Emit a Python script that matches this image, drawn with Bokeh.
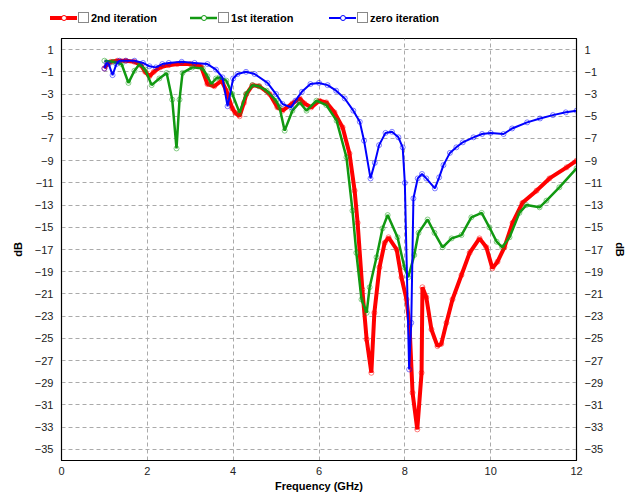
from bokeh.plotting import figure
from bokeh.models import LinearAxis, FixedTicker, Range1d, Div
from bokeh.layouts import column
from bokeh.embed import file_html
from bokeh.resources import INLINE

# ---- data ----
x_ticks = [0, 2, 4, 6, 8, 10, 12]
y_ticks = [1, -1, -3, -5, -7, -9, -11, -13, -15, -17, -19, -21, -23, -25, -27, -29, -31, -33, -35]

series_names = ["2nd iteration", "1st iteration", "zero iteration"]

second_x = [1.0, 1.08, 1.15, 1.3, 1.5, 1.7, 1.85, 1.95, 2.05, 2.15, 2.3, 2.5, 2.7, 3.0, 3.25, 3.4,
            3.56, 3.73, 3.84, 3.98, 4.05, 4.15, 4.25, 4.31, 4.45, 4.61, 4.85, 5.03, 5.15, 5.38, 5.55,
            5.66, 5.82, 6.01, 6.17, 6.36, 6.55, 6.71, 6.83, 6.90, 7.01, 7.11, 7.22, 7.29, 7.41, 7.53,
            7.62, 7.81, 7.92, 8.04, 8.11, 8.18, 8.29, 8.39, 8.41, 8.50, 8.62, 8.76, 8.85, 8.97, 9.11,
            9.32, 9.51, 9.74, 9.90, 10.04, 10.16, 10.32, 10.51, 10.74, 11.07, 11.37, 11.77, 12.0]
second_db = [-0.7, -0.25, -0.1, 0.0, 0.0, -0.1, -0.4, -1.0, -1.4, -1.0, -0.6, -0.4, -0.3, -0.3, -0.5, -2.1,
             -2.3, -1.8, -2.7, -4.3, -4.7, -5.0, -3.8, -3.0, -2.2, -2.3, -3.0, -4.2, -4.5, -3.85, -3.4,
             -3.85, -4.2, -3.6, -3.75, -4.65, -6.0, -8.35, -11.7, -14.6, -20.6, -25.1, -28.1, -22.7, -18.6, -16.4,
             -15.9, -17.0, -19.5, -21.5, -23.9, -29.9, -33.2, -28.1, -20.4, -21.3, -24.2, -25.7, -25.5, -23.6, -21.5,
             -19.3, -17.3, -16.0, -16.8, -18.7, -18.1, -16.8, -14.6, -12.8, -11.7, -10.6, -9.6, -9.0]

first_x = [1.0, 1.2, 1.4, 1.56, 1.7, 1.82, 1.95, 2.1, 2.28, 2.45, 2.58, 2.68, 2.75, 2.82, 3.05, 3.29,
           3.4, 3.49, 3.6, 3.68, 3.84, 3.98, 4.15, 4.3, 4.45, 4.6, 4.78, 5.0, 5.08, 5.2, 5.38, 5.55,
           5.71, 5.94, 6.17, 6.41, 6.64, 6.78, 6.87, 6.99, 7.11, 7.18, 7.34, 7.48, 7.60, 7.83, 7.99,
           8.08, 8.22, 8.32, 8.53, 8.69, 8.88, 9.09, 9.32, 9.55, 9.79, 9.97, 10.14, 10.27, 10.44, 10.67,
           10.83, 11.14, 11.30, 11.60, 12.0]
first_db = [0.0, -0.1, -0.3, -2.0, -0.9, -0.3, -0.8, -2.2, -1.6, -1.1, -3.5, -7.9, -3.5, -1.1, -0.6, -0.7,
            -1.4, -2.1, -1.6, -1.5, -1.8, -3.0, -4.7, -3.0, -2.2, -2.3, -2.7, -3.6, -4.2, -6.3, -4.5, -3.75,
            -4.5, -3.6, -4.0, -5.4, -8.7, -13.5, -17.3, -21.5, -22.7, -20.4, -17.7, -15.1, -13.9, -15.9, -18.6,
            -19.5, -17.5, -15.5, -14.3, -15.5, -16.8, -16.0, -15.7, -14.1, -13.7, -15.0, -16.3, -16.8, -15.9, -13.7,
            -13.0, -13.2, -12.6, -11.4, -9.7]

zero_x = [1.0, 1.05, 1.1, 1.19, 1.28, 1.35, 1.5, 1.7, 1.9, 2.05, 2.2, 2.35, 2.5, 2.8, 3.1, 3.4, 3.6,
          3.75, 3.87, 4.0, 4.1, 4.3, 4.5, 4.8, 5.0, 5.15, 5.35, 5.45, 5.6, 5.8, 6.0, 6.2, 6.4, 6.6, 6.8,
          6.95, 7.05, 7.2, 7.3, 7.4, 7.55, 7.7, 7.85, 7.95, 8.0, 8.1, 8.15, 8.2, 8.3, 8.4, 8.5, 8.7, 8.8,
          8.9, 9.05, 9.2, 9.35, 9.6, 9.8, 10.0, 10.3, 10.5, 10.85, 11.15, 11.45, 11.75, 12.0]
zero_db = [-0.7, -0.2, -0.3, -1.3, -0.3, 0.0, 0.0, 0.0, -0.2, -0.5, -0.6, -0.3, -0.2, -0.1, -0.2, -0.3, -0.8,
           -1.5, -4.1, -1.6, -1.2, -1.0, -1.2, -2.0, -3.0, -3.9, -4.2, -3.6, -2.8, -2.1, -2.0, -2.2, -2.7, -3.4, -4.5,
           -5.5, -7.2, -10.6, -9.2, -7.6, -6.5, -6.4, -6.9, -7.8, -11.0, -27.8, -23.6, -12.4, -10.6, -10.2, -10.6, -11.5, -10.5,
           -9.4, -8.3, -7.8, -7.35, -6.9, -6.6, -6.5, -6.6, -6.1, -5.55, -5.2, -4.9, -4.65, -4.5]

FONT = "Liberation Sans"
COLORS = ["red", "#119911", "blue"]
WIDTHS = [4, 2.5, 2]

# ---- legend strip (inline SVG inside a Div) ----
LEG_H = 37
item_x = [50, 190, 329]
yc = 18
parts = []
for i in range(3):
    x0 = item_x[i]
    c = COLORS[i]
    parts.append(f'<line x1="{x0}" y1="{yc}" x2="{x0 + 27}" y2="{yc}" stroke="{c}" stroke-width="{WIDTHS[i]}"/>')
    parts.append(f'<circle cx="{x0 + 14}" cy="{yc}" r="2.5" fill="white" stroke="{c}" stroke-width="1"/>')
    parts.append(f'<rect x="{x0 + 28.5}" y="{yc - 5.5}" width="10" height="10" fill="white" stroke="#888888" stroke-width="1"/>')
    parts.append(f'<text x="{x0 + 41}" y="{yc + 4}" font-family="{FONT}" font-size="11px" '
                 f'font-weight="bold" fill="black">{series_names[i]}</text>')
svg = (f'<svg xmlns="http://www.w3.org/2000/svg" width="629" height="{LEG_H}" '
       f'style="display:block">' + "".join(parts) + '</svg>')
leg = Div(text=svg, width=629, height=LEG_H, margin=0, styles={"padding": "0", "margin": "0"})

# ---- main chart ----
p = figure(width=629, height=494 - LEG_H, x_range=Range1d(0, 12), y_range=Range1d(-36, 2),
           output_backend="svg", toolbar_location=None,
           min_border_left=61, min_border_right=51, min_border_top=1, min_border_bottom=10)
p.background_fill_color = "white"
p.border_fill_color = "white"
p.outline_line_color = "black"
p.outline_line_width = 1.2

p.xaxis.ticker = FixedTicker(ticks=x_ticks)
p.yaxis.ticker = FixedTicker(ticks=y_ticks)
p.xgrid.ticker = FixedTicker(ticks=x_ticks[1:-1])
p.ygrid.ticker = FixedTicker(ticks=y_ticks)
for g in (p.xgrid, p.ygrid):
    g.grid_line_color = "#aaaaaa"
    g.grid_line_dash = "4 3"
    g.grid_line_width = 1

right_axis = LinearAxis(ticker=FixedTicker(ticks=y_ticks), axis_label="dB")
p.add_layout(right_axis, "right")

p.xaxis.axis_label = "Frequency (GHz)"
p.yaxis.axis_label = "dB"
for ax in p.xaxis + p.yaxis + [right_axis]:
    ax.major_tick_out = 0
    ax.major_tick_in = 0
    ax.minor_tick_out = 0
    ax.minor_tick_in = 0
    ax.axis_line_color = "black"
    ax.major_label_text_font = FONT
    ax.major_label_text_font_size = "11px"
    ax.major_label_text_color = "#222222"
    ax.axis_label_text_font = FONT
    ax.axis_label_text_font_size = "11px"
    ax.axis_label_text_font_style = "bold"
    ax.axis_label_text_color = "black"
p.xaxis.major_label_standoff = 6
p.xaxis.axis_label_standoff = 2
for ax in p.yaxis + [right_axis]:
    ax.major_label_standoff = 8
    ax.axis_label_standoff = 8

data = [(second_x, second_db), (first_x, first_db), (zero_x, zero_db)]
for (xs, ys), c, w in zip(data, COLORS, WIDTHS):
    p.line(xs, ys, line_color=c, line_width=w)
    p.scatter(xs, ys, marker="circle", size=5, line_color=c, line_alpha=0.5, fill_color=None)

layout = column(leg, p, spacing=0)
open("out.html", "w").write(file_html(layout, INLINE))
